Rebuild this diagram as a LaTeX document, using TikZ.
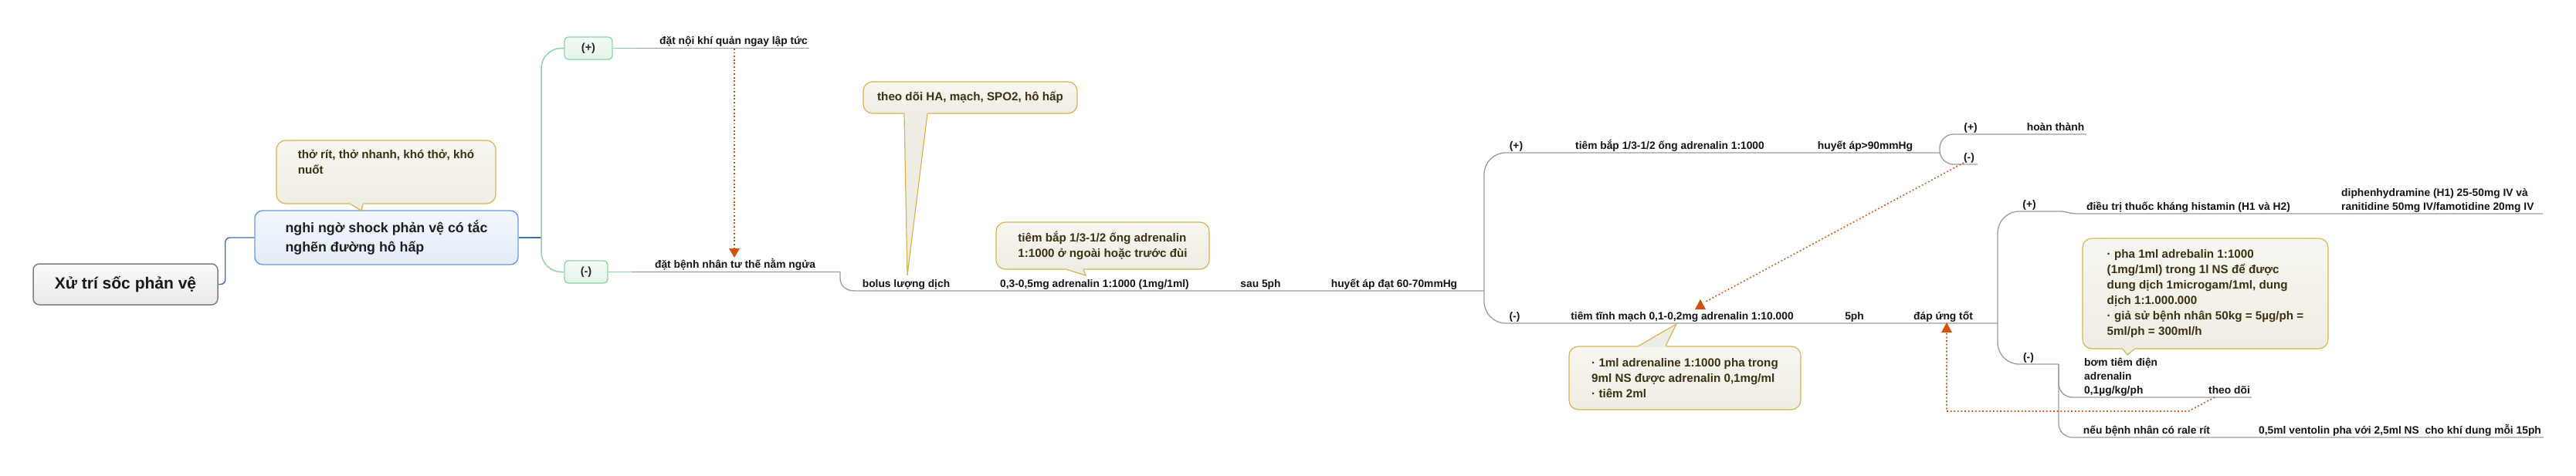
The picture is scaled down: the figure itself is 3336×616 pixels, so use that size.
\documentclass[tikz,border=0pt]{standalone}
\usepackage{fontspec}
\setmainfont{Liberation Sans}
\usetikzlibrary{calc}
\definecolor{gline}{HTML}{9C9C9C}
\definecolor{grn}{HTML}{8ED3A5}
\definecolor{grnA}{HTML}{F2FAF5}
\definecolor{grnB}{HTML}{E4F4EA}
\definecolor{blu}{HTML}{6A9BD8}
\definecolor{bluline}{HTML}{3F72B5}
\definecolor{bluA}{HTML}{F3F7FD}
\definecolor{bluB}{HTML}{E3ECF8}
\definecolor{gold}{HTML}{D6B550}
\definecolor{cA}{HTML}{F7F6F0}
\definecolor{cB}{HTML}{EFEDE3}
\definecolor{ctext}{HTML}{3A3212}
\definecolor{org}{HTML}{D0520E}
\definecolor{rootb}{HTML}{7F7F7F}
\definecolor{rootA}{HTML}{FAFAFA}
\definecolor{rootB}{HTML}{E9E9E9}
\tikzset{
  lbl/.style={font=\fontsize{13.8}{16}\selectfont\bfseries, text=black!92, inner sep=0pt},
  lblm/.style={lbl, align=left, font=\fontsize{13.8}{17.8}\selectfont\bfseries},
  cbox/.style={draw=gold, top color=cA, bottom color=cB, line width=1.2pt, rounded corners=12pt,
    font=\fontsize{15.2}{20}\selectfont\bfseries, text=ctext, align=left, inner sep=0pt},
  gbox/.style={draw=grn, top color=grnA, bottom color=grnB, line width=1.3pt, rounded corners=5pt,
    font=\fontsize{14.5}{16}\selectfont\bfseries, text=black!85, inner sep=0pt},
  rootbox/.style={draw=rootb, top color=rootA, bottom color=rootB, line width=1.5pt, rounded corners=8pt,
    font=\fontsize{21}{24}\selectfont\bfseries, text=black!90, inner sep=0pt},
  mainbox/.style={draw=blu, top color=bluA, bottom color=bluB, line width=1.4pt, rounded corners=10pt,
    font=\fontsize{17.8}{25}\selectfont\bfseries, text=black!88, align=left, inner sep=0pt},
  conn/.style={draw=gline, line width=1.3pt},
  gconn/.style={draw=grn, line width=1.5pt},
  bconn/.style={draw=bluline, line width=1.4pt},
  rel/.style={draw=org, line width=1.6pt, dash pattern=on 1.7pt off 2.9pt},
  ptrfill/.style={fill=cB},
  ptrline/.style={draw=gold, line width=1.2pt}
}
\begin{document}
\begin{tikzpicture}[x=1pt,y=-1pt]
\useasboundingbox (0,0) rectangle (3336,616);

% ---------- root and main topic ----------
\node[rootbox, minimum width=239pt, minimum height=53pt] (root) at (162.5,368.5) {Xử trí sốc phản vệ};
\node[mainbox, minimum width=341pt, minimum height=70pt] (main) at (500.5,308) {nghi ngờ shock phản vệ có tắc\\nghẽn đường hô hấp};
\draw[bconn, rounded corners=6pt] (root.east) -- ++(9,0) |- (main.west);

% callout A
\node[cbox, minimum width=284pt, minimum height=82pt] (cAx) at (500,223) {thở rít, thở nhanh, khó thở, khó\\nuốt\\\strut};
\coordinate (tA) at (468,273);
\fill[ptrfill] ($(cAx.south)+(-46,-1.5)$) -- ($(cAx.south)+(-46,0)$) -- (tA) -- ($(cAx.south)+(-30,0)$) -- ($(cAx.south)+(-30,-1.5)$) -- cycle;
\draw[ptrline] ($(cAx.south)+(-46,0)$) -- (tA) -- ($(cAx.south)+(-30,0)$);

% ---------- (+)/(-) green branch ----------
\node[gbox, minimum width=62pt, minimum height=29pt] (P1) at (762,62.5) {(+)};
\node[gbox, minimum width=56pt, minimum height=29pt] (M1) at (759,352.5) {(-)};
\draw[bconn] (main.east) -- (701,308);
\draw[gconn, rounded corners=26pt] (P1.west) -- (701,62.5) -- (701,352.5) -- (M1.west);

\draw[gconn] (P1.east) -- (823,62.5);
\draw[conn] (823,62.5) -- (1048,62.5);
\node[lbl, anchor=base] (L1) at (950,57.5) {đặt nội khí quản ngay lập tức};

\draw[gconn] (M1.east) -- (818,352.5);
\draw[conn] (818,352.5) -- (1088,352.5) -- (1088,360) .. controls (1088,371) and (1096,377) .. (1107,377) -- (1922,377);
\node[lbl, anchor=base] (L2) at (952,347.5) {đặt bệnh nhân tư thế nằm ngửa};

% relationship 1
\draw[rel] (951,63) -- (951,322);
\fill[org] (944,322) -- (958,322) -- (951,334) -- cycle;

% ---------- bolus line ----------
\node[lbl, anchor=base] (bol) at (1173.5,372.5) {bolus lượng dịch};
\node[lbl, anchor=base] (adr1) at (1417.5,372.5) {0,3-0,5mg adrenalin 1:1000 (1mg/1ml)};
\node[lbl, anchor=base] (sau) at (1632.5,372.5) {sau 5ph};
\node[lbl, anchor=base] (ha1) at (1805.5,372.5) {huyết áp đạt 60-70mmHg};

% callout B
\node[cbox, minimum width=277pt, minimum height=41pt] (cBx) at (1256.5,126.5) {theo dõi HA, mạch, SPO2, hô hấp};
\coordinate (tB) at (1175,357);
\fill[ptrfill] ($(cBx.south)+(-85.5,-1.5)$) -- ($(cBx.south)+(-85.5,0)$) -- (tB) -- ($(cBx.south)+(-55.5,0)$) -- ($(cBx.south)+(-55.5,-1.5)$) -- cycle;
\draw[ptrline] ($(cBx.south)+(-85.5,0)$) -- (tB) -- ($(cBx.south)+(-55.5,0)$);

% callout C
\node[cbox, minimum width=276pt, minimum height=61pt] (cCx) at (1428,318.5) {tiêm bắp 1/3-1/2 ống adrenalin\\1:1000 ở ngoài hoặc trước đùi};
\coordinate (tC) at (1406,357);
\fill[ptrfill] ($(cCx.south)+(-46,-1.5)$) -- ($(cCx.south)+(-46,0)$) -- (tC) -- ($(cCx.south)+(-25,0)$) -- ($(cCx.south)+(-25,-1.5)$) -- cycle;
\draw[ptrline] ($(cCx.south)+(-46,0)$) -- (tC) -- ($(cCx.south)+(-25,0)$);

% ---------- branch at 1922 ----------
\draw[conn, rounded corners=28pt] (2512,198) -- (1922,198) -- (1922,419) -- (2587,419);
\node[lbl, anchor=base] (P2) at (1963.5,193.5) {(+)};
\node[lbl, anchor=base] (tb2) at (2162.5,193.5) {tiêm bắp 1/3-1/2 ống adrenalin 1:1000};
\node[lbl, anchor=base] (ha2) at (2415.5,193.5) {huyết áp>90mmHg};
\node[lbl, anchor=base] (M2) at (1961.5,414.5) {(-)};
\node[lbl, anchor=base] (ttm) at (2178.5,414.5) {tiêm tĩnh mạch 0,1-0,2mg adrenalin 1:10.000};
\node[lbl, anchor=base] (p5) at (2401.5,414.5) {5ph};
\node[lbl, anchor=base] (dut) at (2516.5,414.5) {đáp ứng tốt};

% bracket after huyết áp>90
\draw[conn, rounded corners=18pt] (2702,174) -- (2512,174) -- (2512,213) -- (2561,213);
\node[lbl, anchor=base] (P3) at (2552,169.5) {(+)};
\node[lbl, anchor=base] (hoan) at (2662,169.5) {hoàn thành};
\node[lbl, anchor=base] (M3) at (2550,208.5) {(-)};

% relationship 2
\coordinate (r2s) at (2543,211);
\draw[rel] (r2s) -- (2207,392);
\fill[org] (2202,388) -- (2209,401) -- (2195,401) -- cycle;

% callout D
\node[cbox, minimum width=300pt, minimum height=82pt] (cDx) at (2182,490) {· 1ml adrenaline 1:1000 pha trong\\9ml NS được adrenalin 0,1mg/ml\\· tiêm 2ml};
\coordinate (tD) at (2171,420);
\fill[ptrfill] ($(cDx.north)+(-60,1.5)$) -- ($(cDx.north)+(-60,0)$) -- (tD) -- ($(cDx.north)+(-25,0)$) -- ($(cDx.north)+(-25,1.5)$) -- cycle;
\draw[ptrline] ($(cDx.north)+(-60,0)$) -- (tD) -- ($(cDx.north)+(-25,0)$);

% ---------- branch at 2587 ----------
\draw[conn, rounded corners=28pt] (2617,274) -- (2587,274) -- (2587,472) -- (2666,472);
\draw[conn] (2617,274) -- (2668,274) .. controls (2676,274) and (2680,277) .. (2690,277) -- (3293,277);
\node[lbl, anchor=base] (P4) at (2628,269.5) {(+)};
\node[lbl, anchor=base] (hist) at (2834,272.5) {điều trị thuốc kháng histamin (H1 và H2)};
\node[lblm, anchor=west] (diph) at (3032,259.5) {diphenhydramine (H1) 25-50mg IV và\\ranitidine 50mg IV/famotidine 20mg IV};

\node[lbl, anchor=base] (M4) at (2627,467.5) {(-)};
\draw[conn, rounded corners=18pt] (2666,472) -- (2666,515) -- (2916,515);
\draw[conn, rounded corners=18pt] (2666,472) -- (2666,567) -- (3294,567);
\node[lblm, anchor=west] (bom) at (2699,489) {bơm tiêm điện\\adrenalin\\0,1µg/kg/ph};
\node[lbl, anchor=base] (theo) at (2887,510.5) {theo dõi};
\node[lbl, anchor=base] (rale) at (2780,562.5) {nếu bệnh nhân có rale rít};
\node[lbl, anchor=base west] (vent) at (2925,562.5) {0,5ml ventolin pha với 2,5ml NS\ \ cho khí dung mỗi 15ph};

% callout E
\node[cbox, minimum width=318pt, minimum height=143pt] (cEx) at (2856,380.5) {· pha 1ml adrebalin 1:1000\\(1mg/1ml) trong 1l NS để được\\dung dịch 1microgam/1ml, dung\\dịch 1:1.000.000\\· giả sử bệnh nhân 50kg = 5µg/ph =\\5ml/ph = 300ml/h};
\coordinate (tE) at (2755,460);
\fill[ptrfill] ($(cEx.south)+(-107,-1.5)$) -- ($(cEx.south)+(-107,0)$) -- (tE) -- ($(cEx.south)+(-92,0)$) -- ($(cEx.south)+(-92,-1.5)$) -- cycle;
\draw[ptrline] ($(cEx.south)+(-107,0)$) -- (tE) -- ($(cEx.south)+(-92,0)$);

% relationship 3
\coordinate (r3s) at (2868,515);
\draw[rel] (r3s) -- (2834,533) -- (2521,533) -- (2521,431);
\fill[org] (2521,418) -- (2528,431) -- (2514,431) -- cycle;
\end{tikzpicture}
\end{document}
